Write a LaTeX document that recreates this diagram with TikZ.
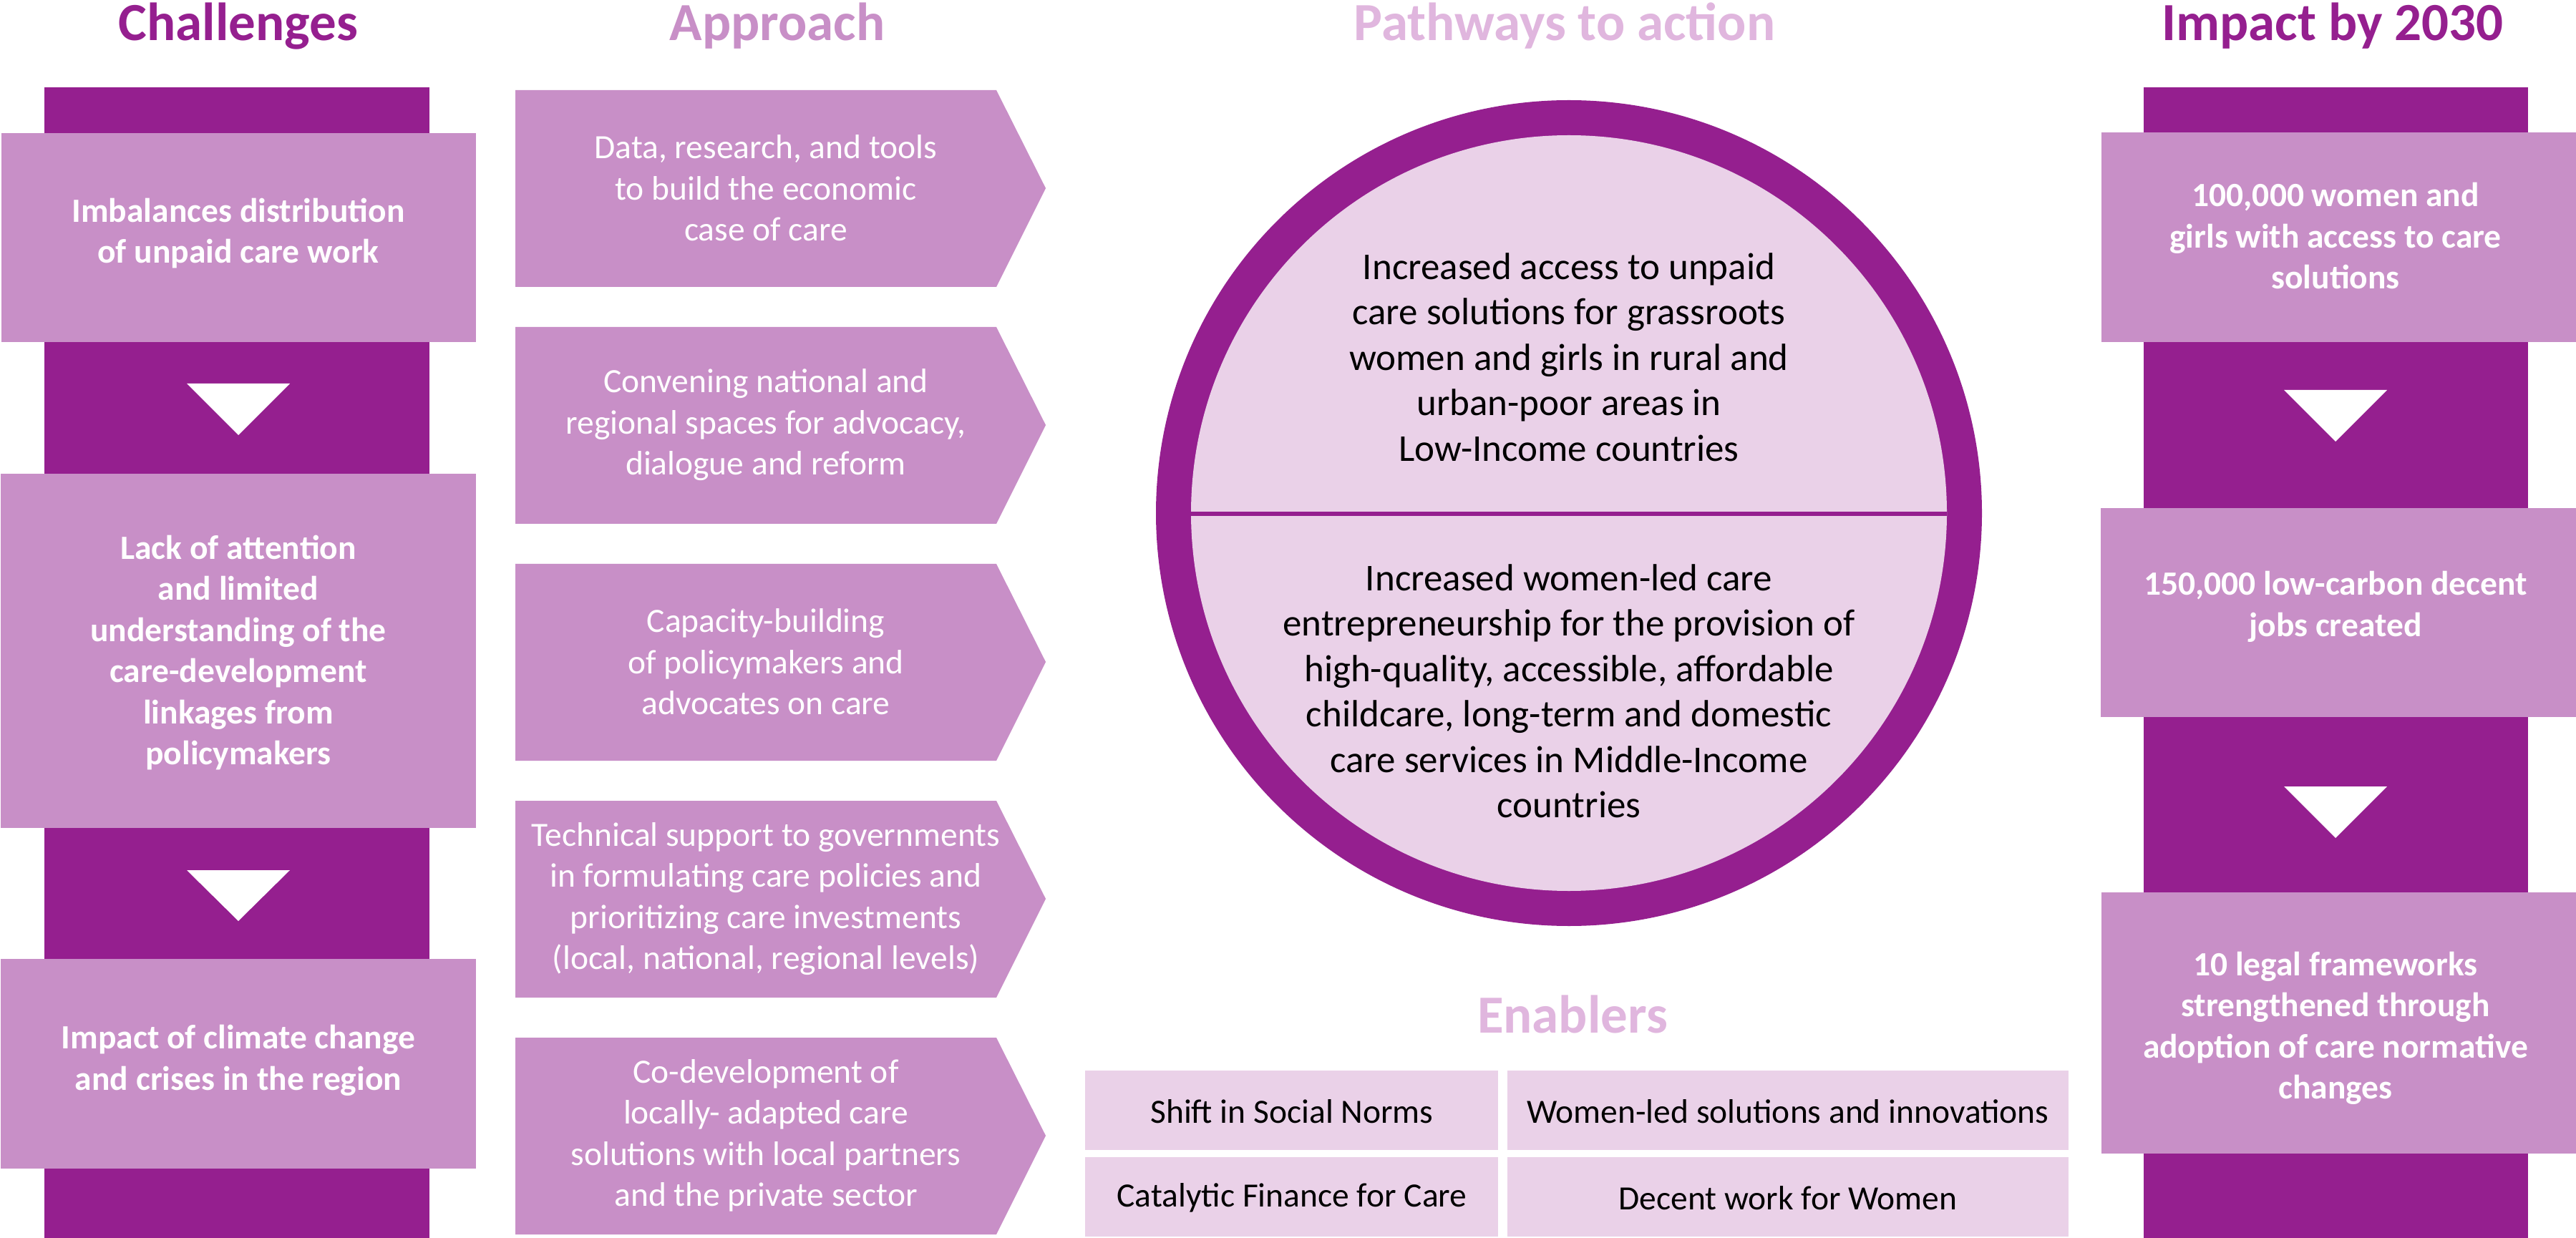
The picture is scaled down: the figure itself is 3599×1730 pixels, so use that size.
\documentclass[tikz,border=0pt]{standalone}
\usepackage{fontspec}
\setmainfont{Carlito}
\definecolor{plum}{HTML}{951F8F}
\definecolor{orchid}{HTML}{C88FC7}
\definecolor{blush}{HTML}{EAD1E8}
\definecolor{lilac}{HTML}{E0B6DE}
\begin{document}
\begin{tikzpicture}[x=0.2pt,y=-0.2pt,
  heading/.style={font=\fontsize{15}{18}\selectfont\bfseries, anchor=base, inner sep=0pt},
  strongtxt/.style={font=\fontsize{9.5}{11.5}\selectfont\bfseries, text=white, align=center, inner sep=0pt},
  softtxt/.style={font=\fontsize{9.5}{11.5}\selectfont, text=white, align=center, inner sep=0pt},
  pathtxt/.style={font=\fontsize{10.6}{12.7}\selectfont, text=black, align=center, inner sep=0pt},
  enabtxt/.style={font=\fontsize{9.5}{11.5}\selectfont, text=black, align=center, inner sep=0pt},
  notch/.style={fill=white}
]
\useasboundingbox (0,0) rectangle (3599,1730);

% column headings
\node[heading, text=plum]   (hChal) at (333,57)  {Challenges};
\node[heading, text=orchid] (hAppr) at (1086,57) {Approach};
\node[heading, text=lilac]  (hPath) at (2186,57) {Pathways to action};
\node[heading, text=plum]   (hImp)  at (3259,57) {Impact by 2030};

% challenges column
\fill[plum] (62,122) rectangle (600,1730);
\fill[orchid] (2,186) rectangle (665,478);
\fill[orchid] (1,662) rectangle (665,1157);
\fill[orchid] (1,1340) rectangle (665,1633);
\fill[notch] (261,536) -- (405,536) -- (333,608) -- cycle;
\fill[notch] (261,1216) -- (405,1216) -- (333,1287) -- cycle;
\node[strongtxt] (c1) at (333,326) {Imbalances distribution\\of unpaid care work};
\node[strongtxt] (c2) at (333,912) {Lack of attention\\and limited\\understanding of the\\care-development\\linkages from\\policymakers};
\node[strongtxt] (c3) at (333,1482) {Impact of climate change\\and crises in the region};

% approach column
\foreach \t in {126,457,788,1119,1450}
  \fill[orchid] (720,\t) -- (1392,\t) -- (1461,{\t+137}) -- (1392,{\t+275}) -- (720,{\t+275}) -- cycle;
\node[softtxt] (a1) at (1070,263)  {Data, research, and tools\\to build the economic\\case of care};
\node[softtxt] (a2) at (1070,594)  {Convening national and\\regional spaces for advocacy,\\dialogue and reform};
\node[softtxt] (a3) at (1070,925)  {Capacity-building\\of policymakers and\\advocates on care};
\node[softtxt] (a4) at (1070,1256) {Technical support to governments\\in formulating care policies and\\prioritizing care investments\\(local, national, regional levels)};
\node[softtxt] (a5) at (1070,1587) {Co-development of\\locally- adapted care\\solutions with local partners\\and the private sector};

% pathways ring
\fill[plum] (2192,717) circle[radius=577];
\fill[blush] (2192,717) circle[radius=528];
\coordinate (ringW) at (1664,718);
\coordinate (ringE) at (2720,718);
\draw[plum, line width=1.1pt] (ringW) -- (ringE);
\node[pathtxt] (p1) at (2192,499) {Increased access to unpaid\\care solutions for grassroots\\women and girls in rural and\\urban-poor areas in\\Low-Income countries};
\node[pathtxt] (p2) at (2192,966) {Increased women-led care\\entrepreneurship for the provision of\\high-quality, accessible, affordable\\childcare, long-term and domestic\\care services in Middle-Income\\countries};

% enablers
\node[heading, text=lilac] (hEnab) at (2197,1443) {Enablers};
\fill[blush] (1516,1496) rectangle (2093,1607);
\fill[blush] (2106,1496) rectangle (2890,1607);
\fill[blush] (1516,1617) rectangle (2093,1728);
\fill[blush] (2106,1617) rectangle (2890,1728);
\node[enabtxt] (e1) at (1805,1553) {Shift in Social Norms};
\node[enabtxt] (e2) at (2498,1553) {Women-led solutions and innovations};
\node[enabtxt] (e3) at (1805,1674) {Catalytic Finance for Care};
\node[enabtxt] (e4) at (2498,1674) {Decent work for Women};

% impact column
\fill[plum] (2995,122) rectangle (3532,1730);
\fill[orchid] (2936,185) rectangle (3599,478);
\fill[orchid] (2935,710) rectangle (3599,1002);
\fill[orchid] (2936,1247) rectangle (3599,1612);
\fill[notch] (3191,545) -- (3335,545) -- (3263,617) -- cycle;
\fill[notch] (3191,1099) -- (3335,1099) -- (3263,1171) -- cycle;
\node[strongtxt] (i1) at (3263,330)  {100,000 women and\\girls with access to care\\solutions};
\node[strongtxt] (i2) at (3263,848)  {150,000 low-carbon decent\\jobs created};
\node[strongtxt] (i3) at (3263,1437) {10 legal frameworks\\strengthened through\\adoption of care normative\\changes};
\end{tikzpicture}
\end{document}
